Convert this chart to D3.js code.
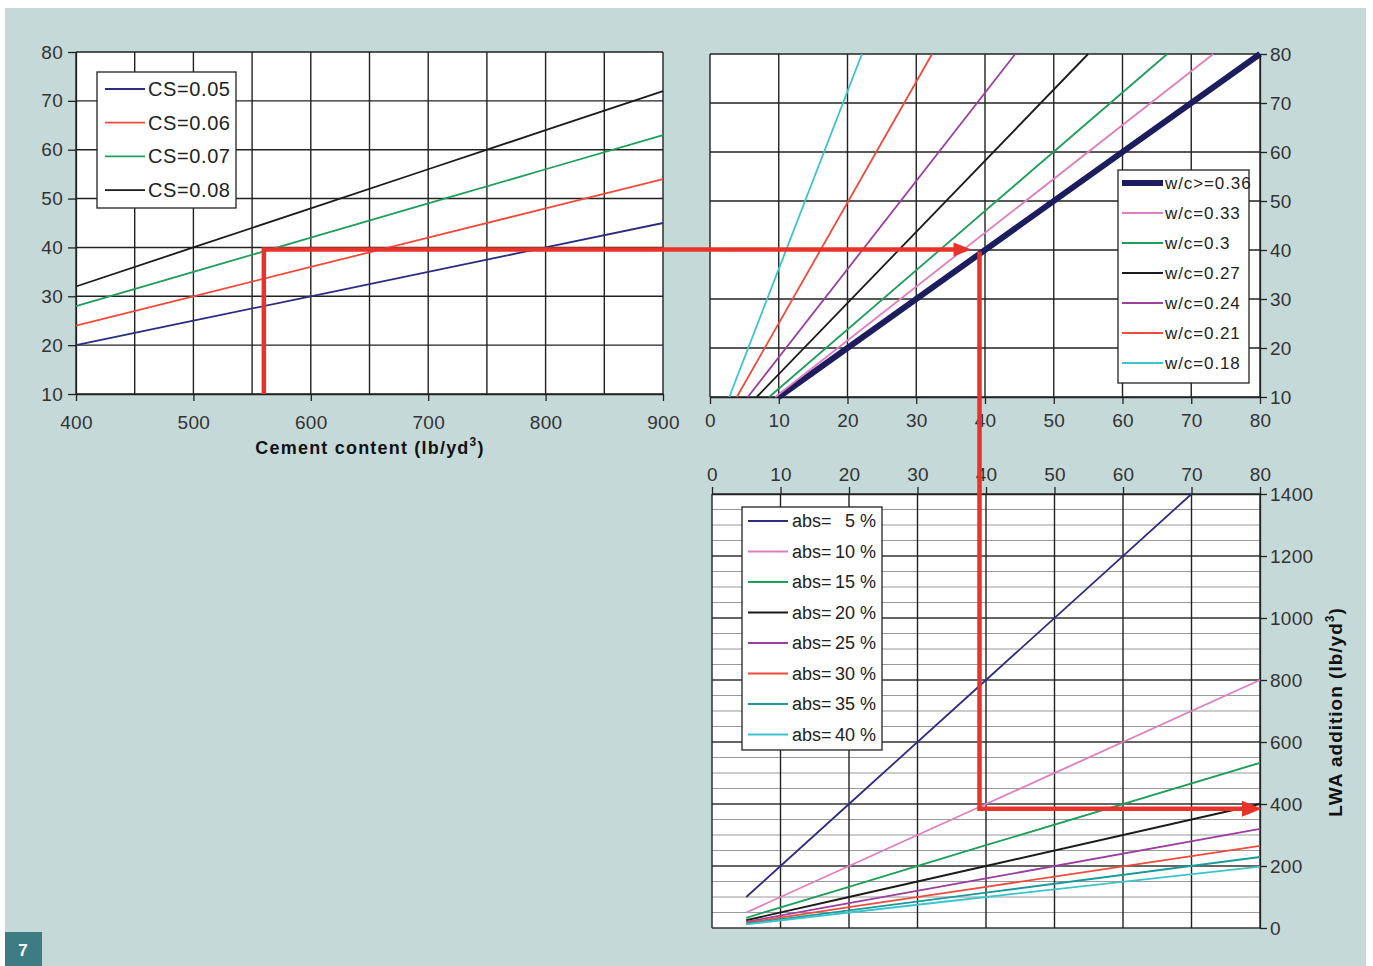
<!DOCTYPE html>
<html>
<head>
<meta charset="utf-8">
<script src="https://cdn.jsdelivr.net/npm/d3@7"></script>
<style>
  body { margin: 0; background: #fff; }
  svg text { font-family: "Liberation Sans", Arial, sans-serif; }
  .tick text { fill: #333; font-size: 19px; letter-spacing: 0.3px; }
  .tick line { stroke: #222; stroke-width: 1.3; }
  .domain { stroke: #222; stroke-width: 1.3; }
</style>
</head>
<body>
<div id="chart"></div>
<script>
// top-left: strength vs cement content
const cementX = [400, 500, 600, 700, 800, 900];
const csLabels = ["CS=0.05", "CS=0.06", "CS=0.07", "CS=0.08"];
const csValues = [
  [20, 25, 30, 35, 40, 45],
  [24, 30, 36, 42, 48, 54],
  [28, 35, 42, 49, 56, 63],
  [32, 40, 48, 56, 64, 72]
];
const csColors = ["#2d2d80", "#f04a3c", "#1e9e5a", "#1a1a1a"];

// top-right: w/c lines, x at strength 10 and at strength 80
const wcLabels = ["w/c>=0.36", "w/c=0.33", "w/c=0.3", "w/c=0.27", "w/c=0.24", "w/c=0.21", "w/c=0.18"];
const wcY = [10, 80];
const wcX = [
  [10, 80],
  [9.5, 73.2],
  [8.6, 66.5],
  [6.8, 55],
  [5.5, 44.4],
  [3.9, 32.3],
  [2.8, 22.1]
];
const wcColors = ["#1c1c5e", "#dd7fbf", "#1e9e5a", "#1a1a1a", "#9b3f9f", "#f04a3c", "#3cc4cc"];

// bottom: LWA addition
const absLabels = ["5", "10", "15", "20", "25", "30", "35", "40"];
const absX = [
  [5, 20, 40, 70],
  [5, 20, 40, 80],
  [5, 20, 40, 80],
  [5, 20, 40, 80],
  [5, 20, 40, 80],
  [5, 20, 40, 80],
  [5, 20, 40, 80],
  [5, 20, 40, 80]
];
const absValues = [
  [100, 400, 800, 1400],
  [50, 200, 400, 800],
  [33, 133, 267, 533],
  [25, 100, 200, 400],
  [20, 80, 160, 320],
  [17, 67, 133, 265],
  [14, 57, 114, 229],
  [12, 50, 100, 198]
];
const absColors = ["#2d2d80", "#dd7fbf", "#1e9e5a", "#1a1a1a", "#9b3f9f", "#f04a3c", "#1a9a9a", "#3cc4cc"];

// worked example (red guide)
const guideCement = 560, guideStrength = 39.6, guideRatio = 39.2, guideLWA = 385;

const width = 1373, height = 966;

const svg = d3.select("#chart")
  .append("svg")
  .attr("width", width)
  .attr("height", height);

svg.append("rect")
  .attr("x", 5).attr("y", 8)
  .attr("width", 1361).attr("height", 958)
  .attr("fill", "#c6d9d9");

// figure badge
svg.append("rect")
  .attr("x", 5).attr("y", 932)
  .attr("width", 37).attr("height", 34)
  .attr("fill", "#3d7c82");
svg.append("text")
  .attr("x", 23).attr("y", 956)
  .attr("text-anchor", "middle")
  .attr("fill", "#fff")
  .style("font-size", "17px")
  .style("font-weight", "bold")
  .text("7");

const line = d3.line();

// ---------- chart 1 ----------
const x1 = d3.scaleLinear().domain([400, 900]).range([76, 663]);
const y1 = d3.scaleLinear().domain([10, 80]).range([394, 52]);

const g1 = svg.append("g");
g1.append("rect")
  .attr("x", x1(400)).attr("y", y1(80))
  .attr("width", x1(900) - x1(400)).attr("height", y1(10) - y1(80))
  .attr("fill", "#fff");

g1.selectAll(".vgrid")
  .data(d3.range(400, 901, 50))
  .join("line")
  .attr("x1", d => x1(d)).attr("x2", d => x1(d))
  .attr("y1", y1(10)).attr("y2", y1(80))
  .attr("stroke", "#222").attr("stroke-width", 1.4);

g1.selectAll(".hgrid")
  .data(d3.range(10, 81, 10))
  .join("line")
  .attr("x1", x1(400)).attr("x2", x1(900))
  .attr("y1", d => y1(d)).attr("y2", d => y1(d))
  .attr("stroke", "#222").attr("stroke-width", 1.4);

g1.append("g")
  .attr("transform", `translate(${x1(400)},0)`)
  .call(d3.axisLeft(y1).tickValues(d3.range(10, 81, 10)).tickSize(8).tickSizeOuter(0).tickPadding(5));

g1.append("g")
  .attr("transform", `translate(0,${y1(10)})`)
  .call(d3.axisBottom(x1).tickValues(d3.range(400, 901, 100)).tickSize(7).tickSizeOuter(0).tickPadding(15));

csValues.forEach((vals, i) => {
  g1.append("path")
    .attr("d", line(vals.map((v, j) => [x1(cementX[j]), y1(v)])))
    .attr("fill", "none")
    .attr("stroke", csColors[i])
    .attr("stroke-width", 1.8);
});

const title1 = g1.append("text")
  .attr("x", 370).attr("y", 454)
  .attr("text-anchor", "middle")
  .attr("fill", "#111")
  .style("font-size", "18px")
  .style("font-weight", "bold")
  .style("letter-spacing", "1.2px");
title1.append("tspan").text("Cement content (lb/yd");
title1.append("tspan").attr("dy", -8).style("font-size", "12px").text("3");
title1.append("tspan").attr("dy", 8).text(")");

// legend 1
const leg1 = g1.append("g");
leg1.append("rect")
  .attr("x", 97).attr("y", 72).attr("width", 139).attr("height", 136)
  .attr("fill", "#fff").attr("stroke", "#222").attr("stroke-width", 1.3);
csLabels.forEach((lab, i) => {
  const yy = 89 + i * 33.7;
  leg1.append("line")
    .attr("x1", 105).attr("x2", 145).attr("y1", yy).attr("y2", yy)
    .attr("stroke", csColors[i]).attr("stroke-width", 1.8);
  leg1.append("text")
    .attr("x", 148).attr("y", yy + 7)
    .attr("fill", "#222")
    .style("font-size", "20px")
    .style("letter-spacing", "0.6px")
    .text(lab);
});

// ---------- chart 2 ----------
const x2 = d3.scaleLinear().domain([0, 80]).range([710, 1260]);
const y2 = d3.scaleLinear().domain([10, 80]).range([397, 54]);

const g2 = svg.append("g");
g2.append("rect")
  .attr("x", x2(0)).attr("y", y2(80))
  .attr("width", x2(80) - x2(0)).attr("height", y2(10) - y2(80))
  .attr("fill", "#fff");

g2.selectAll(".vgrid")
  .data(d3.range(0, 81, 10))
  .join("line")
  .attr("x1", d => x2(d)).attr("x2", d => x2(d))
  .attr("y1", y2(10)).attr("y2", y2(80))
  .attr("stroke", "#222").attr("stroke-width", 1.4);

g2.selectAll(".hgrid")
  .data(d3.range(10, 81, 10))
  .join("line")
  .attr("x1", x2(0)).attr("x2", x2(80))
  .attr("y1", d => y2(d)).attr("y2", d => y2(d))
  .attr("stroke", "#222").attr("stroke-width", 1.4);

g2.append("g")
  .attr("transform", `translate(${x2(80)},0)`)
  .call(d3.axisRight(y2).tickValues(d3.range(10, 81, 10)).tickSize(7).tickSizeOuter(0).tickPadding(3));

g2.append("g")
  .attr("transform", `translate(0,${y2(10)})`)
  .call(d3.axisBottom(x2).tickValues(d3.range(0, 81, 10)).tickSize(7).tickSizeOuter(0).tickPadding(10));

wcX.forEach((xs, i) => {
  g2.append("path")
    .attr("d", line(xs.map((v, j) => [x2(v), y2(wcY[j])])))
    .attr("fill", "none")
    .attr("stroke", wcColors[i])
    .attr("stroke-width", i === 0 ? 6 : 1.8);
});

// ---------- chart 3 ----------
const x3 = d3.scaleLinear().domain([0, 80]).range([712, 1260]);
const y3 = d3.scaleLinear().domain([0, 1400]).range([928, 494]);

const g3 = svg.append("g");
g3.append("rect")
  .attr("x", x3(0)).attr("y", y3(1400))
  .attr("width", x3(80) - x3(0)).attr("height", y3(0) - y3(1400))
  .attr("fill", "#fff");

g3.selectAll(".minor")
  .data(d3.range(0, 1401, 50).filter(d => d % 200 !== 0))
  .join("line")
  .attr("x1", x3(0)).attr("x2", x3(80))
  .attr("y1", d => y3(d)).attr("y2", d => y3(d))
  .attr("stroke", "#9a9a9a").attr("stroke-width", 1.2);

g3.selectAll(".major")
  .data(d3.range(0, 1401, 200))
  .join("line")
  .attr("x1", x3(0)).attr("x2", x3(80))
  .attr("y1", d => y3(d)).attr("y2", d => y3(d))
  .attr("stroke", "#333").attr("stroke-width", 1.4);

g3.selectAll(".vgrid")
  .data(d3.range(0, 81, 10))
  .join("line")
  .attr("x1", d => x3(d)).attr("x2", d => x3(d))
  .attr("y1", y3(0)).attr("y2", y3(1400))
  .attr("stroke", "#222").attr("stroke-width", 1.4);

g3.append("g")
  .attr("transform", `translate(${x3(80)},0)`)
  .call(d3.axisRight(y3).tickValues(d3.range(0, 1401, 200)).tickFormat(d3.format("d"))
    .tickSize(7).tickSizeOuter(0).tickPadding(3));

g3.append("g")
  .attr("transform", `translate(0,${y3(1400)})`)
  .call(d3.axisTop(x3).tickValues(d3.range(0, 81, 10)).tickSize(7).tickSizeOuter(0).tickPadding(6));

absValues.forEach((vals, i) => {
  g3.append("path")
    .attr("d", line(vals.map((v, j) => [x3(absX[i][j]), y3(v)])))
    .attr("fill", "none")
    .attr("stroke", absColors[i])
    .attr("stroke-width", 1.8);
});

const title3 = g3.append("text")
  .attr("transform", "translate(1342,712) rotate(-90)")
  .attr("text-anchor", "middle")
  .attr("fill", "#111")
  .style("font-size", "19px")
  .style("font-weight", "bold")
  .style("letter-spacing", "1px");
title3.append("tspan").text("LWA addition (lb/yd");
title3.append("tspan").attr("dy", -8).style("font-size", "12px").text("3");
title3.append("tspan").attr("dy", 8).text(")");

// ---------- red guide ----------
const red = "#e8332b";
const gx1 = x1(guideCement), gy1 = y1(guideStrength);
const gx2 = x2(guideRatio), gy3 = y3(guideLWA);

svg.append("path")
  .attr("d", line([[gx1, y1(10)], [gx1, gy1], [gx2 - 24, gy1]]))
  .attr("fill", "none").attr("stroke", red).attr("stroke-width", 4.5);
svg.append("path")
  .attr("d", `M${gx2 - 8},${gy1} L${gx2 - 26},${gy1 - 7} L${gx2 - 26},${gy1 + 7} Z`)
  .attr("fill", red);

svg.append("path")
  .attr("d", line([[gx2, gy1 + 2], [gx2, gy3], [x3(80) - 14, gy3]]))
  .attr("fill", "none").attr("stroke", red).attr("stroke-width", 4.5);
svg.append("path")
  .attr("d", `M${x3(80) + 2},${gy3} L${x3(80) - 18},${gy3 - 8} L${x3(80) - 18},${gy3 + 8} Z`)
  .attr("fill", red);

// legends drawn on top of guide
const leg2 = svg.append("g");
leg2.append("rect")
  .attr("x", 1118).attr("y", 170).attr("width", 131).attr("height", 213)
  .attr("fill", "#fff").attr("stroke", "#222").attr("stroke-width", 1.3);
wcLabels.forEach((lab, i) => {
  const yy = 183 + i * 30;
  leg2.append("line")
    .attr("x1", 1122).attr("x2", 1163).attr("y1", yy).attr("y2", yy)
    .attr("stroke", wcColors[i]).attr("stroke-width", i === 0 ? 6 : 1.8);
  leg2.append("text")
    .attr("x", 1165).attr("y", yy + 6)
    .attr("fill", "#222")
    .style("font-size", "17px")
    .style("letter-spacing", "0.9px")
    .text(lab);
});

const leg3 = svg.append("g");
leg3.append("rect")
  .attr("x", 742).attr("y", 507).attr("width", 140).attr("height", 243)
  .attr("fill", "#fff").attr("stroke", "#222").attr("stroke-width", 1.3);
absLabels.forEach((lab, i) => {
  const yy = 521 + i * 30.5;
  leg3.append("line")
    .attr("x1", 748).attr("x2", 788).attr("y1", yy).attr("y2", yy)
    .attr("stroke", absColors[i]).attr("stroke-width", 1.8);
  leg3.append("text")
    .attr("x", 792).attr("y", yy + 6)
    .attr("fill", "#222")
    .style("font-size", "18px")
    .text("abs=");
  leg3.append("text")
    .attr("x", 876).attr("y", yy + 6)
    .attr("text-anchor", "end")
    .attr("fill", "#222")
    .style("font-size", "18px")
    .text(lab + " %");
});
</script>
</body>
</html>
